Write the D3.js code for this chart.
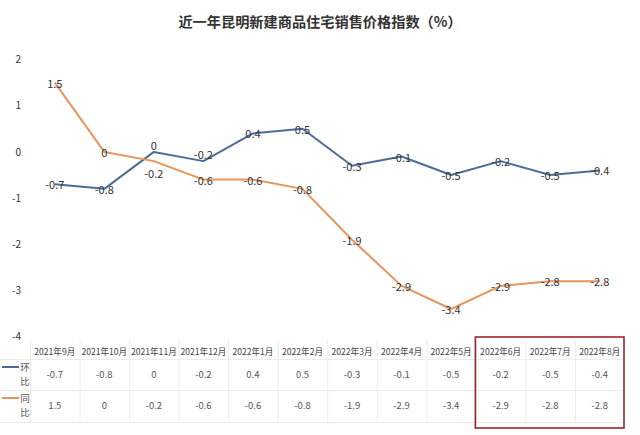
<!DOCTYPE html>
<html>
<head>
<meta charset="utf-8">
<script src="https://cdn.jsdelivr.net/npm/d3@7/dist/d3.min.js"></script>
<style>
  html, body { margin: 0; padding: 0; background: #fff; }
  svg { display: block; font-family: "Noto Sans CJK SC", "Noto Sans", sans-serif; }
</style>
</head>
<body>
<svg id="chart" width="640" height="435"></svg>
<script>
const title = "近一年昆明新建商品住宅销售价格指数（%）";
const months = ["2021年9月","2021年10月","2021年11月","2021年12月","2022年1月","2022年2月","2022年3月","2022年4月","2022年5月","2022年6月","2022年7月","2022年8月"];
const huanbi = [-0.7, -0.8, 0, -0.2, 0.4, 0.5, -0.3, -0.1, -0.5, -0.2, -0.5, -0.4];
const tongbi = [1.5, 0, -0.2, -0.6, -0.6, -0.8, -1.9, -2.9, -3.4, -2.9, -2.8, -2.8];
const yTicks = [2, 1, 0, -1, -2, -3, -4];
const seriesNames = [["环", "比"], ["同", "比"]];
const highlightMonths = ["2022年6月", "2022年7月", "2022年8月"];

const colors = ["#4d6c97", "#e6955c"];
const fmt = d => String(d);
const svg = d3.select("#chart");

svg.append("text")
  .attr("x", 320).attr("y", 21)
  .attr("text-anchor", "middle").attr("dominant-baseline", "central")
  .attr("font-size", 14.2).attr("font-weight", "bold").attr("fill", "#333")
  .text(title);

const x = d3.scaleBand().domain(months).range([30, 624.5]).padding(0);
const y = d3.scaleLinear().domain([-4, 2]).range([336.7, 59.5]);
const cx = m => x(m) + x.bandwidth() / 2;

// y axis labels
const yAxis = d3.axisLeft(y).tickValues(yTicks).tickSize(0).tickPadding(0).tickFormat(fmt);
const yg = svg.append("g").attr("transform", "translate(21,0)").call(yAxis);
yg.select(".domain").remove();
yg.selectAll("text").attr("font-size", 10).attr("fill", "#333")
  .attr("font-family", "'Noto Sans CJK SC', sans-serif");

const series = [huanbi, tongbi];
const line = d3.line().x((d, i) => cx(months[i])).y(d => y(d));

series.forEach((s, k) => {
  svg.append("path").datum(s)
    .attr("d", line).attr("fill", "none")
    .attr("stroke", colors[k]).attr("stroke-width", 2)
    .attr("stroke-linejoin", "round");
});

// data labels
series.forEach((s, k) => {
  const other = series[1 - k];
  svg.append("g").selectAll("text").data(s).join("text")
    .attr("x", (d, i) => cx(months[i]))
    .attr("y", (d, i) => {
      const diff = Math.abs(d - other[i]);
      let dy = 0;
      if (d > other[i] && diff <= 0.45) dy = -7;
      if (d < other[i] && diff <= 0.25) dy = 12;
      return y(d) + dy;
    })
    .attr("text-anchor", "middle").attr("dominant-baseline", "central")
    .attr("font-size", 11).attr("fill", "#333")
    .text(fmt);
});

// table
const rowTop = 340, headerBottom = 359, row1Bottom = 390, row2Bottom = 422;
const grid = svg.append("g").attr("stroke", "#ececec").attr("stroke-width", 1);
[headerBottom, row1Bottom, row2Bottom].forEach(yy => {
  grid.append("line").attr("x1", 0).attr("x2", 624.5).attr("y1", yy + 0.5).attr("y2", yy + 0.5);
});
months.forEach(m => {
  grid.append("line").attr("x1", x(m) + 0.5).attr("x2", x(m) + 0.5).attr("y1", rowTop).attr("y2", row2Bottom);
});

svg.append("g").selectAll("text").data(months).join("text")
  .attr("x", d => cx(d)).attr("y", 351)
  .attr("text-anchor", "middle").attr("dominant-baseline", "central")
  .attr("font-size", 8.6).attr("fill", "#444")
  .text(d => d);

const rowY = [374, 405];
series.forEach((s, k) => {
  svg.append("g").selectAll("text").data(s).join("text")
    .attr("x", (d, i) => cx(months[i])).attr("y", rowY[k])
    .attr("text-anchor", "middle").attr("dominant-baseline", "central")
    .attr("font-size", 9.5).attr("fill", "#555")
    .text(fmt);
});

// legend cells
const legY = [[367, 381], [398, 412]];
series.forEach((s, k) => {
  svg.append("line").attr("x1", 2).attr("x2", 19)
    .attr("y1", legY[k][0]).attr("y2", legY[k][0])
    .attr("stroke", colors[k]).attr("stroke-width", 2);
  seriesNames[k].forEach((ch, j) => {
    svg.append("text").attr("x", 25).attr("y", legY[k][j])
      .attr("text-anchor", "middle").attr("dominant-baseline", "central")
      .attr("font-size", 9.5).attr("fill", "#555").text(ch);
  });
});

// highlight box
const hx0 = x(highlightMonths[0]);
const hx1 = x(highlightMonths[highlightMonths.length - 1]) + x.bandwidth();
svg.append("rect")
  .attr("x", hx0 - 0.5).attr("y", 337)
  .attr("width", hx1 - hx0).attr("height", 91)
  .attr("fill", "none").attr("stroke", "#9b2529").attr("stroke-width", 1.6);
</script>
</body>
</html>
